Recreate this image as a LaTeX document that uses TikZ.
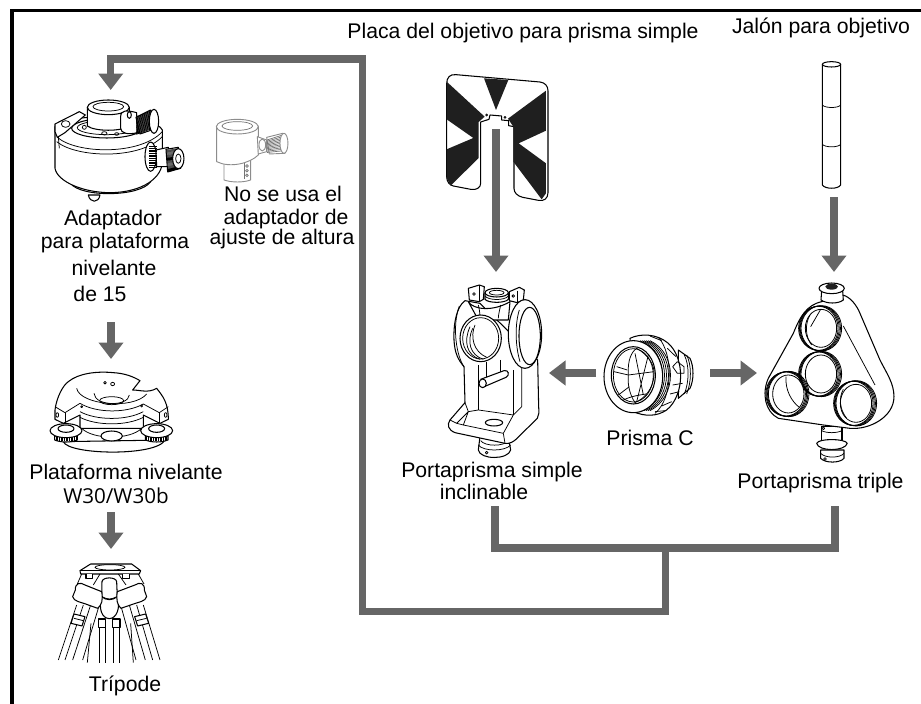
\documentclass[tikz,border=0pt]{standalone}
\usepackage{fontspec}
\setmainfont{Liberation Sans}
\newfontfamily\modelfont{Open Sans}
\usetikzlibrary{arrows.meta}
\definecolor{flow}{HTML}{666666}
\tikzset{
  zoomed/.style 2 args={shift={(#1,#2)},x=.3333pt,y=-.3333pt},
  ink/.style={draw=black,line width=1.05pt,fill=white,line join=round},
  fine/.style={draw=black,line width=.75pt,line join=round},
  pale/.style={draw=black!45,line width=.9pt,fill=white,line join=round},
  palefine/.style={draw=black!55,line width=.7pt},
  inked/.style={fill=black!88,draw=none},
  flowline/.style={draw=flow,line width=7.3pt,line join=miter},
  flowarrow/.style={flowline,-{Triangle[length=16.5pt,width=24pt]}},
  label/.style={font=\fontsize{21.2}{24}\selectfont,inner sep=0pt,anchor=base},
}
\begin{document}
\begin{tikzpicture}[x=1pt,y=-1pt]
\useasboundingbox (0,0) rectangle (921,704);
% frame
\coordinate (frameA) at (921,10.5);
\coordinate (frameB) at (12,10.5);
\coordinate (frameC) at (12,704);
\draw[line width=3.6pt,line join=miter] (frameA) -- (frameB) -- (frameC);

% ---------------- adapter
\begin{scope}[zoomed={0}{0}]
\draw[ink] (265,585) .. controls (270,610) and (296,610) .. (300,585) -- cycle;
\draw[ink] (212,550) .. controls (240,592) and (420,592) .. (452,545) -- cycle;
\draw[ink] (165,380) -- (165,505) .. controls (172,545) and (250,578) .. (330,578) .. controls (410,578) and (480,545) .. (487,490) -- (487,390) .. controls (470,345) and (200,335) .. (165,380) -- cycle;
\draw[fine] (172,412) .. controls (230,462) and (420,467) .. (487,395);
\draw[fine] (170,425) .. controls (230,474) and (420,480) .. (487,410);
\draw[ink] (320,385) ellipse [x radius=105,y radius=29];
\draw[fine] (320,383) ellipse [x radius=88,y radius=21];
\draw[ink] (262,322) -- (262,378) .. controls (285,395) and (365,395) .. (388,378) -- (388,322) -- cycle;
\draw[ink] (325,322) ellipse [x radius=63,y radius=22];
\draw[fine] (325,320) ellipse [x radius=46,y radius=13];
\draw[fine] (253,382) circle [radius=6];
\draw[fine] (313,400) ellipse [x radius=8,y radius=5];
\draw[fine] (350,402) ellipse [x radius=6,y radius=4];
\draw[ink] (165,372) -- (238,335) -- (256,345) -- (195,398) -- (172,412) -- (165,395) -- cycle;
\draw[fine] (197,372) ellipse [x radius=13,y radius=10];
\draw[fine] (175,410) -- (178,445);
% upper knob
\draw[ink] (362,350) .. controls (362,330) and (380,330) .. (410,338) -- (412,398) .. controls (385,405) and (362,400) .. (362,385) -- cycle;
\draw[ink] (388,345) ellipse [x radius=6,y radius=10];
\draw[ink] (408,352) -- (452,330) -- (470,385) -- (420,402) -- cycle;
\foreach \t in {0,3,...,60} \draw[fine] (409,352+\t*.85) -- (455,332+\t*.9);
\draw[ink] (462,364) ellipse [x radius=14,y radius=36];
% lower knob
\draw[ink] (452,470) ellipse [x radius=17,y radius=44];
\draw[ink] (468,450) -- (505,442) -- (515,500) -- (470,500) -- cycle;
\foreach \t in {0,3,...,36} \draw[fine] (448,440+\t*1.7) -- (470,440+\t*1.7);
\draw[ink] (498,448) -- (535,442) -- (542,505) -- (503,516) -- cycle;
\foreach \t in {0,3,...,36} \draw[fine] (500+\t,450-\t*.15) -- (506+\t,516-\t*.3);
\draw[ink] (535,476) ellipse [x radius=17,y radius=30];
\draw[fine] (535,476) ellipse [x radius=8,y radius=14];
% height adapter (not used)
\draw[pale] (672,485) -- (672,540) .. controls (695,548) and (730,548) .. (752,540) -- (752,470) -- cycle;
\draw[palefine] (733,490) -- (733,538);
\draw[palefine] (741,498) circle [radius=4] (741,512) circle [radius=4] (741,526) circle [radius=4];
\draw[pale] (650,378) -- (650,485) .. controls (690,505) and (750,490) .. (775,465) -- (775,378) -- cycle;
\draw[pale] (712,380) ellipse [x radius=63,y radius=22];
\draw[palefine] (712,378) ellipse [x radius=46,y radius=13];
\draw[pale] (772,410) -- (800,420) -- (800,455) -- (775,462) -- cycle;
\draw[pale] (787,435) ellipse [x radius=10,y radius=18];
\draw[pale] (800,412) -- (848,400) -- (855,460) -- (808,462) -- cycle;
\foreach \t in {0,5,...,50} \draw[palefine] (801,420+\t*.75) -- (848,405+\t*.95);
\draw[pale] (852,430) ellipse [x radius=12,y radius=30];
\end{scope}

% ---------------- levelling base
\begin{scope}[zoomed={0}{360}]
\draw[ink] (190,245) .. controls (205,285) and (470,290) .. (495,240) -- cycle;
\draw[ink] (165,150) .. controls (170,110) and (190,75) .. (205,65) .. controls (235,40) and (290,33) .. (340,38) .. controls (375,40) and (400,50) .. (420,62) -- (398,90) .. controls (420,90) and (445,100) .. (470,85) .. controls (490,110) and (505,130) .. (505,178) -- (480,190) -- (430,165) -- (430,205) -- (240,205) -- (240,165) -- (190,190) -- (165,178) -- cycle;
\draw[fine] (165,140) -- (195,158) -- (240,130) .. controls (290,160) and (380,160) .. (430,132) -- (478,158) -- (505,140);
\draw[fine] (195,158) -- (195,190);
\draw[fine] (478,158) -- (478,190);
\draw[fine] (240,155) .. controls (290,182) and (380,182) .. (430,155);
\draw[fine] (240,172) .. controls (290,198) and (380,198) .. (430,172);
\draw[fine] (230,85) .. controls (240,135) and (400,150) .. (440,102);
\draw[fine] (282,100) .. controls (285,140) and (385,140) .. (388,105);
\draw[fine] (335,122) ellipse [x radius=36,y radius=12];
\draw[fine] (315,68) circle [radius=4];
\draw[fine] (338,72) ellipse [x radius=6,y radius=5];
\draw[fine] (172,165) ellipse [x radius=4,y radius=7];
\draw[fine] (497,165) ellipse [x radius=4,y radius=7];
\draw[fine] (245,140) circle [radius=3] (425,138) circle [radius=3];
\draw[fine] (245,205) .. controls (280,240) and (390,240) .. (425,205);
\draw[ink] (335,228) ellipse [x radius=32,y radius=15];
% knobs
\foreach \cx in {198,470}{
  \draw[ink] (\cx-34,228) -- (\cx-34,240) .. controls (\cx-15,248) and (\cx+15,248) .. (\cx+34,240) -- (\cx+34,228) -- cycle;
  \foreach \d in {-30,-25,...,30} \draw[fine] (\cx+\d,226) -- (\cx+\d,243);
  \draw[ink] (\cx,212) ellipse [x radius=48,y radius=21];
  \draw[ink] (\cx,206) ellipse [x radius=24,y radius=11];
}
\end{scope}

% ---------------- tripod
\begin{scope}[zoomed={0}{360}]
% legs
\foreach \xa/\xb in {230/175,250/195,272/218,298/248,430/480,410/458,388/436,362/408}
  \draw[fine] (\xa,735) -- (\xb,900);
\foreach \xa/\xb in {273/262,298/298,315/315,340/340,358/358,392/400}
  \draw[fine] (\xa,790) -- (\xb,908);
% top
\draw[ink] (240,632) -- (272,612) -- (395,612) -- (422,632) -- (418,642) -- (242,642) -- cycle;
\draw[fine] (240,632) -- (422,632);
\draw[fine] (330,622) ellipse [x radius=45,y radius=8];
\draw[ink] (258,642) -- (258,656) -- (278,656) -- (278,642);
\draw[ink] (368,642) -- (368,656) -- (388,656) -- (388,642);
\draw[fine] (245,642) -- (232,672);
\draw[fine] (415,642) -- (432,672);
\draw[fine] (300,642) -- (280,675);
\draw[fine] (355,642) -- (378,675);
% centre
\draw[ink] (306,665) .. controls (308,650) and (348,650) .. (350,665) -- (352,710) .. controls (330,720) and (326,720) .. (305,710) -- cycle;
\draw[ink] (305,710) .. controls (295,745) and (305,775) .. (328,776) .. controls (350,775) and (362,745) .. (352,710) .. controls (338,722) and (318,722) .. (305,710) -- cycle;
\draw[ink] (295,777) rectangle (316,802);
\draw[ink] (338,777) rectangle (360,802);
% leg heads
\draw[ink] (226,690) .. controls (225,670) and (240,665) .. (255,675) -- (305,695) .. controls (310,720) and (305,735) .. (293,745) -- (265,735) .. controls (240,725) and (222,725) .. (218,710) -- cycle;
\draw[ink] (433,690) .. controls (435,670) and (420,665) .. (405,675) -- (352,695) .. controls (348,720) and (352,735) .. (363,745) -- (392,735) .. controls (418,725) and (436,725) .. (440,710) -- cycle;
% clamps
\draw[ink] (222,762) -- (255,770) -- (246,798) -- (213,790) -- cycle;
\draw[ink] (404,770) -- (437,762) -- (446,790) -- (413,798) -- cycle;
\draw[fine] (222,775) -- (250,782) (410,782) -- (440,775);
\end{scope}

% ---------------- target plate
\begin{scope}[zoomed={420}{60}]
\draw[ink,fill=white] (80,72) .. controls (80,52) and (90,42) .. (108,44) -- (360,66) .. controls (375,68) and (384,78) .. (384,92) -- (384,398) .. controls (384,415) and (372,425) .. (355,421) -- (308,412) .. controls (292,408) and (282,398) .. (282,385) -- (282,200) -- (266,197) -- (266,182) -- (245,180) -- (245,168) -- (210,165) -- (207,178) -- (182,186) -- (182,370) .. controls (182,383) and (170,391) .. (152,388) -- (100,378) .. controls (88,375) and (80,365) .. (80,350) -- cycle;
\fill[black!88] (192,55) -- (265,60) -- (228,150) -- cycle;
\fill[black!88] (80,65) -- (194,170) -- (176,186) -- (176,294) -- (92,377) -- (80,355) -- (80,268) -- (160,234) -- (80,178) -- cycle;
\fill[black!88] (378,92) -- (264,176) -- (280,200) -- (280,305) -- (365,418) -- (378,400) -- (378,310) -- (296,250) -- (378,212) -- cycle;
\draw[fine,fill=white] (200,165) circle [radius=3];
\draw[fine,fill=white] (255,172) circle [radius=3];
\end{scope}

% ---------------- pole
\begin{scope}[zoomed={780}{0}]
\draw[ink] (127,193) -- (127,555) .. controls (135,568) and (175,568) .. (182,555) -- (182,193);
\draw[ink] (154.5,193) ellipse [x radius=27.5,y radius=8];
\draw[fine] (127,315) .. controls (135,325) and (175,325) .. (182,315);
\draw[fine] (127,433) .. controls (135,443) and (175,443) .. (182,433);
\end{scope}

% ---------------- single tilting holder
\begin{scope}[zoomed={430}{270}]
% bottom stud
\draw[ink] (150,500) -- (145,540) .. controls (150,570) and (235,570) .. (242,540) -- (235,500) -- cycle;
\draw[fine] (145,525) .. controls (160,545) and (225,545) .. (242,525);
\draw[fine] (152,512) .. controls (165,530) and (222,530) .. (235,512);
\draw[fine] (170,548) circle [radius=4];
% frame
\draw[ink] (105,92) .. controls (80,110) and (70,160) .. (72,210) .. controls (74,250) and (85,270) .. (102,290) -- (105,398) -- (60,450) .. controls (50,465) and (55,480) .. (75,488) -- (225,520) .. controls (240,522) and (250,515) .. (258,508) -- (322,445) .. controls (328,435) and (327,425) .. (326,410) -- (323,270) -- (150,100) -- cycle;
\draw[fine] (60,450) -- (80,460) -- (115,425) -- (145,420) -- (250,435) -- (220,490) -- (100,465) -- (115,425);
\draw[fine] (80,460) -- (100,465);
\draw[fine] (250,435) -- (250,300);
\draw[fine] (145,420) -- (145,285);
\draw[fine] (250,435) -- (275,410) -- (275,290);
\draw[fine] (105,398) -- (115,425);
\draw[fine] (225,520) -- (220,490);
\draw[ink] (192,458) ellipse [x radius=26,y radius=10];
\draw[fine] (88,108) .. controls (65,170) and (80,260) .. (102,290);
% top parts
\draw[ink] (165,68) -- (165,88) .. controls (175,100) and (225,100) .. (235,88) -- (235,68) -- cycle;
\draw[fine] (165,78) .. controls (175,92) and (225,92) .. (235,78);
\draw[ink] (200,68) ellipse [x radius=35,y radius=13];
\draw[fine] (200,68) ellipse [x radius=22,y radius=7];
\draw[ink] (115,55) -- (148,45) -- (163,50) -- (160,88) -- (148,95) -- (118,90) -- cycle;
\draw[fine] (148,45) -- (148,95);
\draw[fine] (132,72) circle [radius=4];
\draw[ink] (238,65) -- (268,52) -- (283,60) -- (280,90) -- (262,98) -- (238,92) -- cycle;
\draw[fine] (262,62) -- (262,98);
\draw[fine] (250,78) circle [radius=4];
\draw[ink] (115,95) .. controls (130,120) and (190,125) .. (240,95) -- (235,150) -- (145,150) -- cycle;
\draw[fine] (145,105) .. controls (150,125) and (150,135) .. (148,145);
\draw[fine] (212,105) .. controls (208,125) and (205,135) .. (205,145);
% right ring
\draw[ink] (285,192) ellipse [x radius=50,y radius=103];
\draw[fine] (268,120) .. controls (255,160) and (255,225) .. (270,275);
\draw[ink] (299,198) ellipse [x radius=32,y radius=86];
% pin
\draw[fine] (170,275) -- (170,325) (212,270) -- (212,308);
\draw[ink] (158,352) -- (228,322) .. controls (240,316) and (236,298) .. (222,302) -- (152,328);
\draw[ink] (158,340) ellipse [x radius=11,y radius=13];
% centre ring
\draw[ink] (152,205) ellipse [x radius=62,y radius=70];
\draw[fine] (152,205) ellipse [x radius=54,y radius=62];
\draw[fine] (128,175) .. controls (110,215) and (120,255) .. (160,268);
\draw[fine] (120,170) .. controls (100,215) and (110,255) .. (150,268);
\draw[fine] (135,165) .. controls (120,200) and (130,245) .. (170,262);
\end{scope}

% ---------------- prism
\begin{scope}[zoomed={590}{320}]
\draw[ink] (265,90) -- (300,115) .. controls (312,140) and (312,180) .. (300,205) -- (265,235) -- cycle;
\foreach \d in {283,290} \draw[fine] (\d,105) .. controls (\d+15,135) and (\d+15,185) .. (\d,222);
\draw[ink] (120,55) .. controls (150,40) and (200,40) .. (235,70) .. controls (285,115) and (285,225) .. (230,270) .. controls (200,290) and (165,290) .. (130,275) -- cycle;
\draw[fine] (205,52) .. controls (250,100) and (250,235) .. (195,280);
\draw[fine] (262,125) -- (248,140) -- (262,160) -- (282,160) -- (282,140) -- (262,125);
\draw[fine] (232,85) -- (258,110) (248,195) -- (278,190) (240,222) -- (268,215) (215,258) -- (245,245) (195,275) -- (225,272) (180,48) -- (215,62);
\foreach \d in {0,6,...,30}
  \draw[fine] (150+\d,62) .. controls (232+\d,100) and (232+\d,230) .. (150+\d,272);
\draw[ink] (130,170) ellipse [x radius=88,y radius=108];
\draw[ink] (130,166) ellipse [x radius=66,y radius=86];
\draw[fine] (130,166) ellipse [x radius=60,y radius=80];
\draw[fine] (115,165) .. controls (112,120) and (125,95) .. (140,85) .. controls (175,105) and (195,135) .. (192,165) .. controls (190,205) and (165,235) .. (135,248) .. controls (120,225) and (112,195) .. (115,165) -- cycle;
\draw[fine] (72,155) -- (115,165) -- (192,155);
\draw[fine] (80,140) -- (112,150) (85,225) -- (118,200);
\draw[fine] (135,100) -- (160,225) (175,105) -- (140,245);
\draw[fine] (100,240) .. controls (125,228) and (150,225) .. (168,222);
\end{scope}

% ---------------- triple holder
\begin{scope}[zoomed={690}{270}]
% bottom stud
\draw[ink] (395,470) -- (395,520) -- (456,520) -- (456,470) -- cycle;
\draw[fine] (395,482) .. controls (410,490) and (440,490) .. (456,482);
\draw[fine] (400,475) circle [radius=4];
\draw[ink] (380,520) .. controls (385,545) and (465,545) .. (472,520) .. controls (465,505) and (385,505) .. (380,520) -- cycle;
\draw[ink] (392,540) -- (392,565) .. controls (405,580) and (450,580) .. (462,565) -- (462,540) -- cycle;
\draw[fine] (392,550) .. controls (405,565) and (450,565) .. (462,550);
\draw[fine] (405,567) circle [radius=4];
% body
\draw[ink] (395,95) .. controls (350,105) and (330,140) .. (310,190) -- (235,325) .. controls (215,370) and (225,425) .. (265,445) -- (400,465) -- (480,475) .. controls (540,480) and (612,440) .. (612,380) .. controls (612,340) and (590,310) .. (570,270) -- (510,130) .. controls (500,105) and (480,80) .. (458,75) -- cycle;
\draw[fine] (460,168) -- (555,345);
% top stud
\draw[ink] (395,62) -- (393,90) .. controls (410,102) and (445,102) .. (460,90) -- (458,62) -- cycle;
\draw[ink] (425,55) ellipse [x radius=38,y radius=16];
\draw[inked] (425,50) ellipse [x radius=19,y radius=9];
% rings
\foreach \cx/\cy in {385/175,385/312,287/372,490/400}{
  \foreach \k in {0,3,6,9}
    \draw[line width=.8pt] (\cx-\k+9,\cy) ellipse [x radius=61-\k*.2,y radius=68-\k*.2];
  \draw[line width=.8pt,fill=white] (\cx+8,\cy) ellipse [x radius=47,y radius=57];
}
\draw[fine] (392,118) -- (362,170);
\draw[fine] (288,320) .. controls (285,360) and (305,395) .. (328,412);
\draw[fine] (360,135) .. controls (345,160) and (345,200) .. (365,225);
\draw[fine] (460,358) .. controls (445,385) and (450,420) .. (470,445);
\end{scope}

% ---------------- labels
\node[label] (placa) at (523,38) {Placa del objetivo para prisma simple};
\node[label] (jalon) at (821,33) {Jalón para objetivo};
\node[label] (ad1) at (113,225) {Adaptador};
\node[label] (ad2) at (115,248) {para plataforma};
\node[label] (ad3) at (114,275) {nivelante};
\node[label] (ad4) at (100,301.7) {de 15};
\node[label] (no1) at (283,201) {No se usa el};
\node[label] (no2) at (286,224) {adaptador de};
\node[label] (no3) at (282,244) {ajuste de altura};
\node[label] (pl1) at (126,479) {Plataforma nivelante};
\node[label,font=\modelfont\fontsize{20.6}{24}\selectfont] (pl2) at (116,503) {W30/W30b};
\node[label] (tri) at (125,691) {Trípode};
\node[label] (ps1) at (492,477) {Portaprisma simple};
\node[label] (ps2) at (484,499) {inclinable};
\node[label] (pc) at (650,445) {Prisma C};
\node[label] (pt) at (820.5,488) {Portaprisma triple};

% ---------------- connectors
\coordinate (simpleTail) at (495,506);
\coordinate (simpleCorner) at (495,548);
\coordinate (tripleCorner) at (835,548);
\coordinate (tripleTail) at (835,506);
\coordinate (junction) at (665.5,548);
\coordinate (lowCorner) at (665.5,611.5);
\coordinate (lowLeft) at (362.5,611.5);
\coordinate (highLeft) at (362.5,59);
\coordinate (topLeft) at (110.7,59);
\coordinate (adapterIn) at (110.7,90);
\draw[flowline] (simpleTail) -- (simpleCorner) -- (tripleCorner) -- (tripleTail);
\draw[flowarrow] (junction) -- (lowCorner) -- (lowLeft) -- (highLeft) -- (topLeft) -- (adapterIn);
\coordinate (a1) at (111,322); \coordinate (a2) at (111,359);
\coordinate (b1) at (111,512); \coordinate (b2) at (111,549);
\coordinate (c1) at (496,129); \coordinate (c2) at (496,272);
\coordinate (d1) at (834,197); \coordinate (d2) at (834,272);
\coordinate (e1) at (596,373); \coordinate (e2) at (549,373);
\coordinate (f1) at (710,373); \coordinate (f2) at (757,373);
\draw[flowarrow] (a1) -- (a2);
\draw[flowarrow] (b1) -- (b2);
\draw[flowarrow] (c1) -- (c2);
\draw[flowarrow] (d1) -- (d2);
\draw[flowarrow] (e1) -- (e2);
\draw[flowarrow] (f1) -- (f2);
\end{tikzpicture}
\end{document}
